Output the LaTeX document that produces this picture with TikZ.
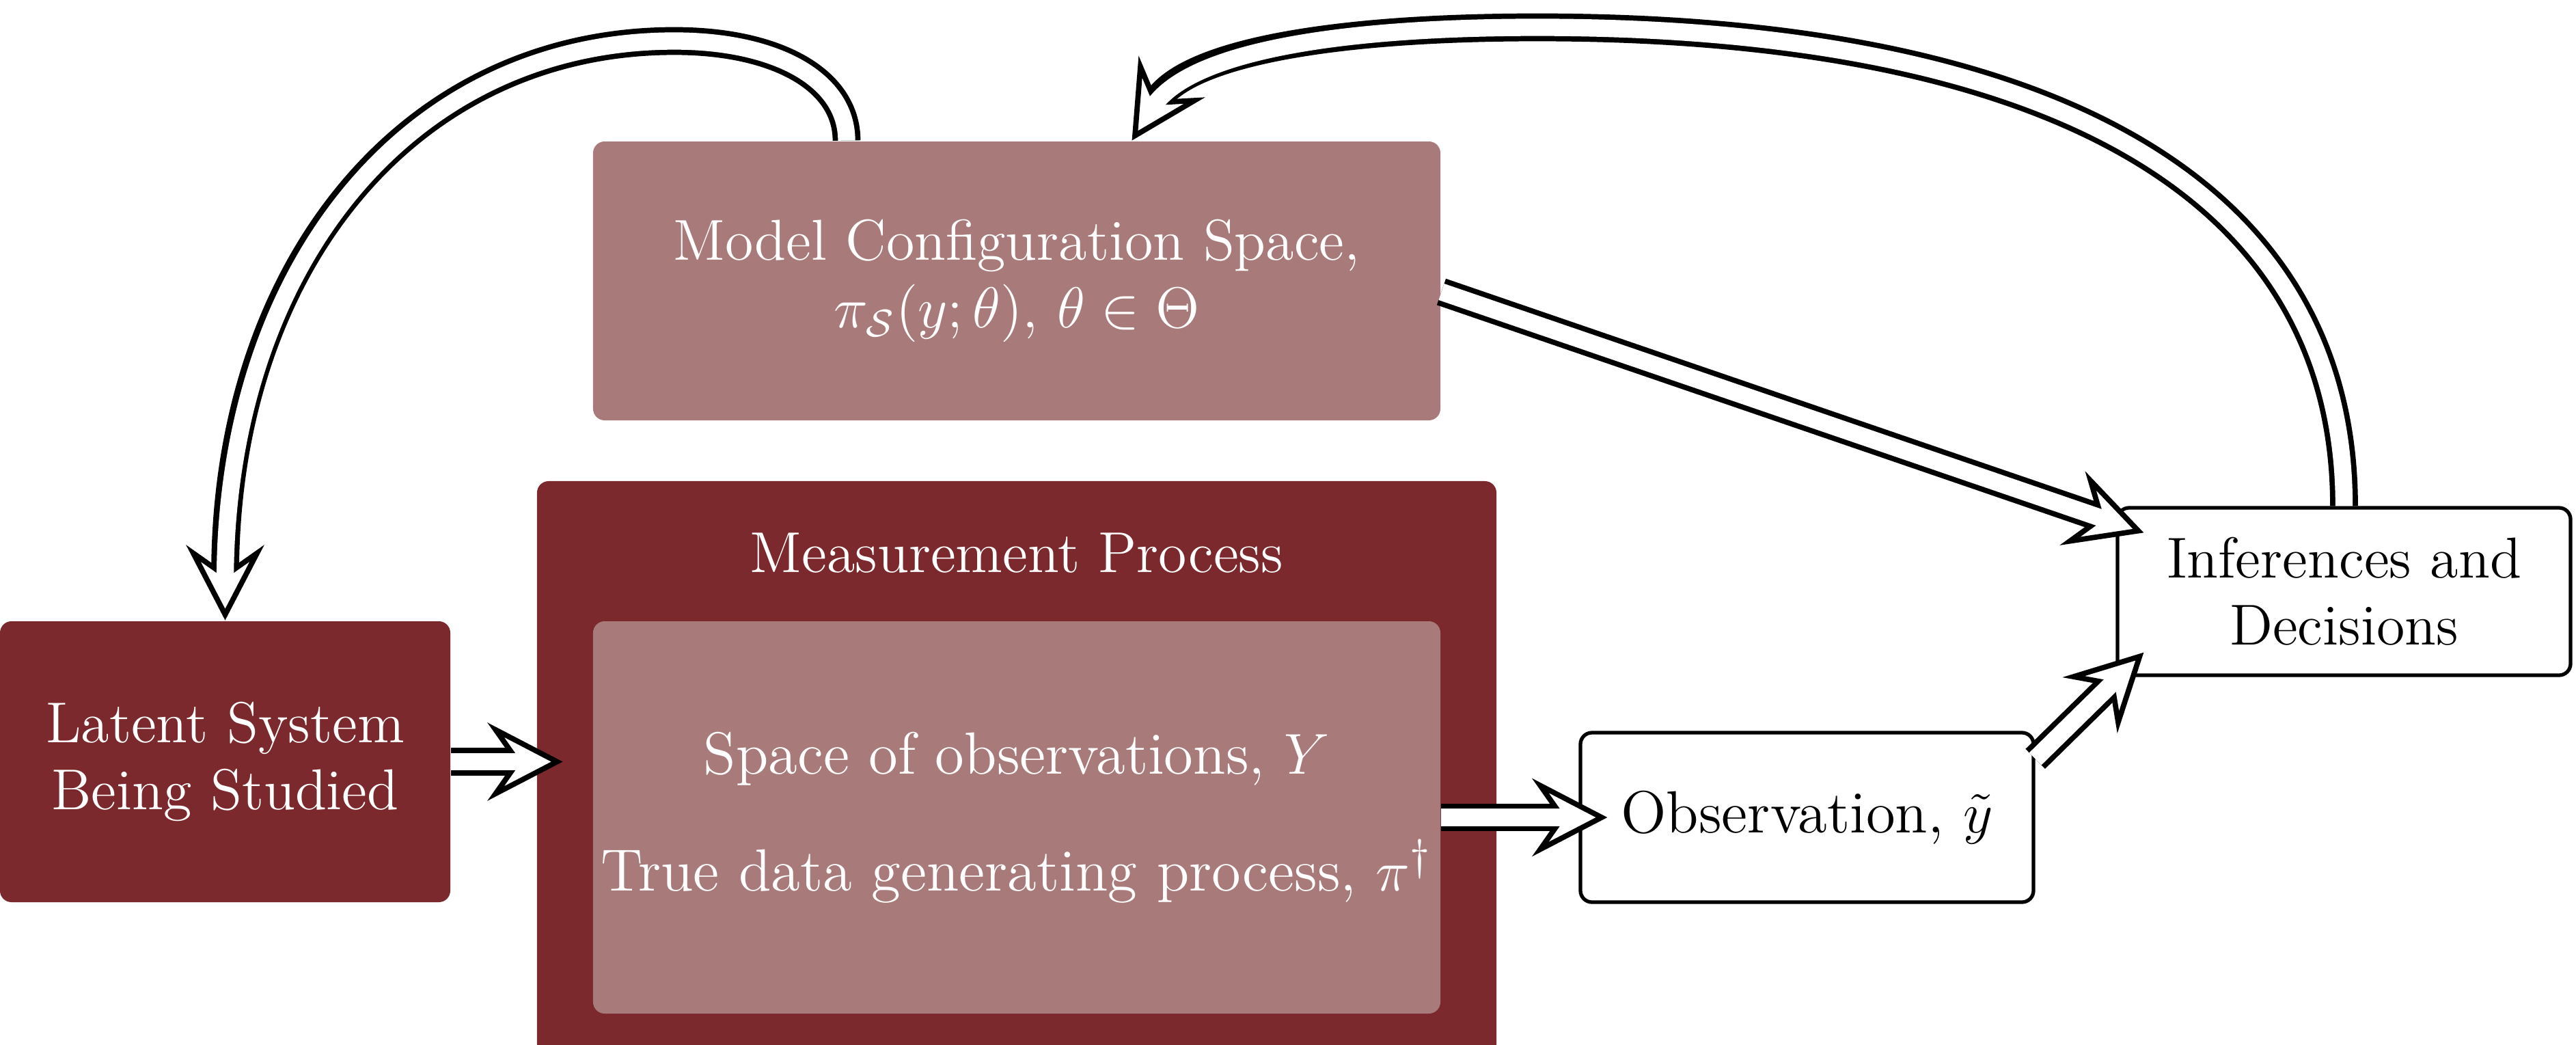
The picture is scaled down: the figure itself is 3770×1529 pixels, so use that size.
\documentclass[tikz,border=0pt]{standalone}
\usetikzlibrary{arrows.meta,calc}
\definecolor{dark}{RGB}{123,41,45}
\definecolor{light}{RGB}{168,123,122}
\begin{document}
\begin{tikzpicture}[x=0.05mm,y=-0.05mm,
  box/.style={rectangle, rounded corners=2.4pt, inner sep=0pt, align=center, font=\fontsize{12}{14}\selectfont},
  bigtext/.style={font=\fontsize{12.4}{14}\selectfont},
  darkbox/.style={box, fill=dark, text=white},
  lightbox/.style={box, fill=light, text=white},
  whitebox/.style={box, draw=black, line width=0.75pt, fill=white, text=black},
  dblarrow/.style={draw=black, line width=5.8pt,
    -{Stealth[length=5.5mm 0, width=5.7mm 0, inset=2mm 0, line width=1.1pt 0, fill=white]},
    postaction={draw=white, line width=3.6pt, arrows=-, shorten >=2.8mm}}
]
\useasboundingbox (0,0) rectangle (3770,1529);

\node[lightbox, minimum width=62mm, minimum height=20.4mm] (model) at (1488,411)
  {Model Configuration Space,\\ $\pi_{\mathcal{S}}(y;\theta)$, $\theta\in\Theta$};
\node[darkbox, minimum width=70.2mm, minimum height=42.05mm] (meas) at (1488,1124.5) {};
\node[anchor=base, text=white, inner sep=0pt, font=\fontsize{12}{14}\selectfont] (meastitle) at (1488,837) {Measurement Process};
\node[lightbox, bigtext, minimum width=62mm, minimum height=28.7mm] (inner) at (1488,1196)
  {Space of observations, $Y$\\[10.4pt] True data generating process, $\pi^{\dagger}$};
\node[darkbox, minimum width=32.95mm, minimum height=20.55mm] (lat) at (329.5,1114.5)
  {Latent System\\ Being Studied};
\node[whitebox, bigtext, minimum width=33.15mm, minimum height=12.4mm] (obs) at (2644.5,1196)
  {Observation, $\tilde{y}$};
\node[whitebox, minimum width=33.15mm, minimum height=12.25mm] (inf) at (3430.5,865.5)
  {Inferences and\\ Decisions};

% arrows
\coordinate (a1) at ($(meas.west |- lat.east)+(39,0)$);
\draw[dblarrow] (lat.east) -- (a1);

\coordinate (a2) at ($(obs.west)+(42,0)$);
\draw[dblarrow] (inner.east) -- (a2);

\coordinate (a3s) at ($(obs.north east)+(0,41)$);
\coordinate (a3) at ($(inf.south west)+(41,-36)$);
\draw[dblarrow] (a3s) -- (a3);

\coordinate (a4s) at ($(model.east)+(0,16)$);
\coordinate (a4) at ($(inf.north west)+(41,39)$);
\draw[dblarrow] (a4s) -- (a4);

\coordinate (a5) at ($(model.north west)+(790,0)$);
\coordinate (a5top) at (2250,40);
\draw[dblarrow] (inf.north) .. controls +(0,-457) and +(763,0) .. (a5top)
  .. controls +(-300,0) and +(80,-128) .. (a5);

\coordinate (a6s) at ($(model.north)+(-249,0)$);
\coordinate (a6top) at (987,60);
\draw[dblarrow] (a6s) .. controls +(0,-88) and +(151,0) .. (a6top)
  .. controls +(-394,0) and +(0,-511) .. (lat.north);
\end{tikzpicture}
\end{document}
